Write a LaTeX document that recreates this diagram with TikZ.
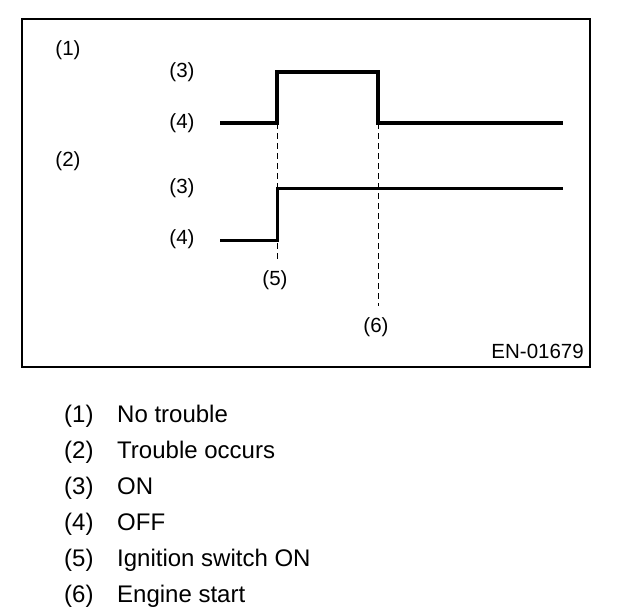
\documentclass[tikz,border=0pt]{standalone}
\usepackage{fontspec}
\setmainfont{Liberation Sans}
\begin{document}
\begin{tikzpicture}[x=1pt,y=-1pt,
  lbl/.style={inner sep=0pt,font=\fontsize{20.5}{24}\selectfont},
  leg/.style={inner sep=0pt,anchor=base west,font=\fontsize{24}{28}\selectfont},
  sigA/.style={line width=4pt,line cap=butt,line join=miter},
  sigB/.style={line width=3pt,line cap=butt,line join=miter},
  guide/.style={line width=1pt,dash pattern=on 6pt off 4pt}]
\useasboundingbox (0,0) rectangle (640,614);
\draw[line width=2pt] (22,19) rectangle (590,367);
% labels in the frame
\node[lbl] (n1) at (68,50) {(1)};
\node[lbl] (n2) at (68,161) {(2)};
\node[lbl] (a3) at (182,72) {(3)};
\node[lbl] (a4) at (182,123) {(4)};
\node[lbl] (b3) at (182,188) {(3)};
\node[lbl] (b4) at (182,239) {(4)};
\node[lbl] (n5) at (275,280) {(5)};
\node[lbl] (n6) at (376,327) {(6)};
\node[lbl,anchor=east] (code) at (584,351) {EN-01679};
% waveform points
\coordinate (a0) at (220,123);
\coordinate (aR) at (277,123);
\coordinate (aRt) at (277,72);
\coordinate (aFt) at (378,72);
\coordinate (aF) at (378,123);
\coordinate (aE) at (563,123);
\coordinate (b0) at (220,240);
\coordinate (bR) at (277,240);
\coordinate (bRt) at (277,188);
\coordinate (bE) at (563,188);
\coordinate (g5) at (277,262);
\coordinate (g6) at (378,306);
% guides
\draw[guide] (aR) -- (g5);
\draw[guide] (aF) -- (g6);
% signals
\draw[sigA] (a0) -- (aR) -- (aRt) -- (aFt) -- (aF) -- (aE);
\draw[sigB] (b0) -- (bR) -- (bRt) -- (bE);
% legend
\node[leg] (l1) at (64,422.6) {(1)};
\node[leg] (t1) at (117,422.6) {No trouble};
\node[leg] (l2) at (64,458.6) {(2)};
\node[leg] (t2) at (117,458.6) {Trouble occurs};
\node[leg] (l3) at (64,494.6) {(3)};
\node[leg] (t3) at (117,494.6) {ON};
\node[leg] (l4) at (64,530.6) {(4)};
\node[leg] (t4) at (117,530.6) {OFF};
\node[leg] (l5) at (64,566.6) {(5)};
\node[leg] (t5) at (117,566.6) {Ignition switch ON};
\node[leg] (l6) at (64,602.6) {(6)};
\node[leg] (t6) at (117,602.6) {Engine start};
\end{tikzpicture}
\end{document}
